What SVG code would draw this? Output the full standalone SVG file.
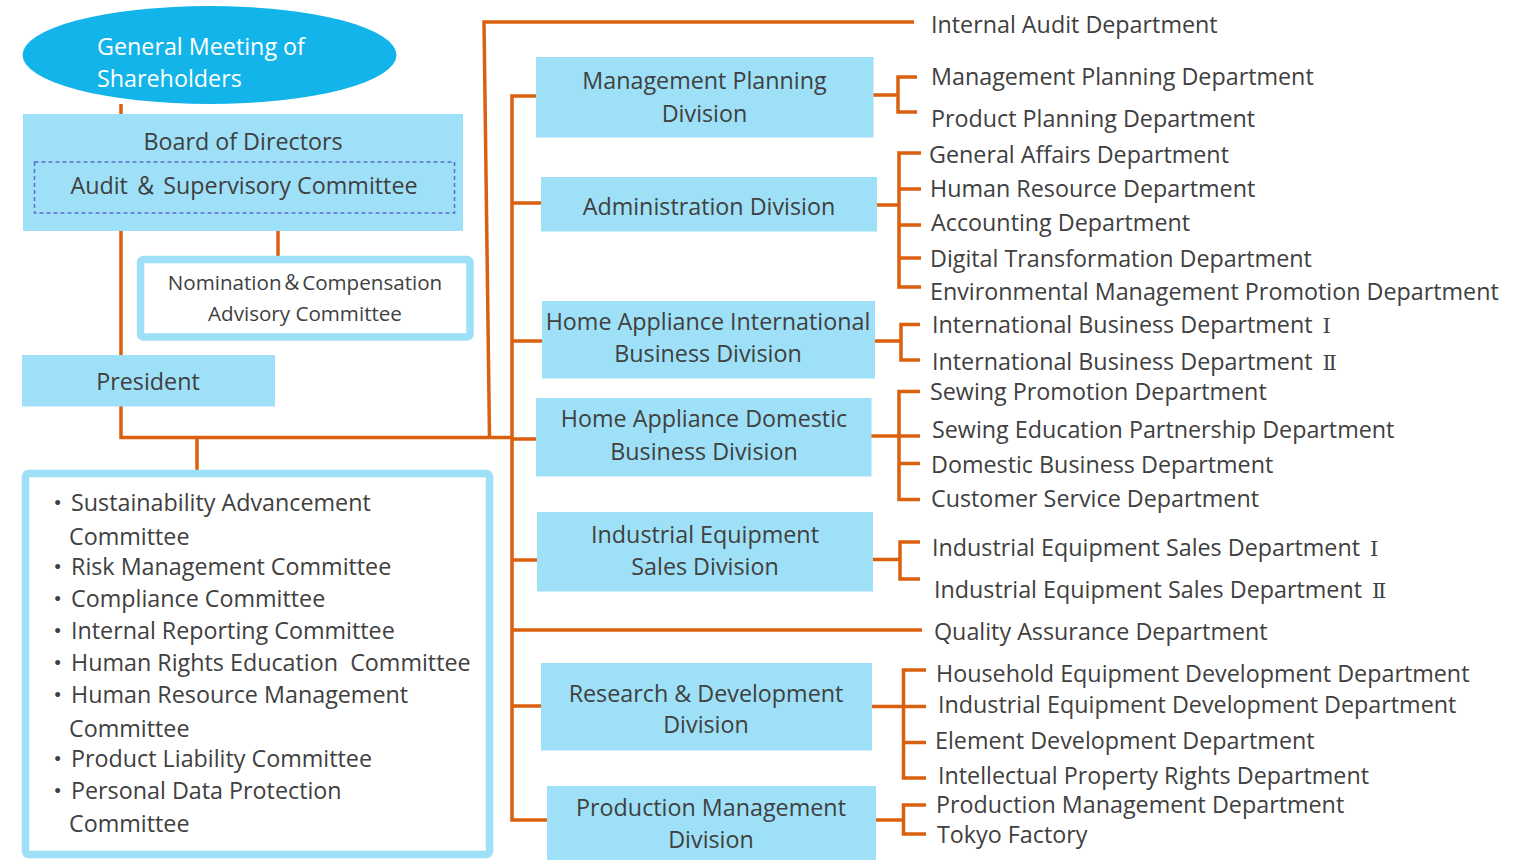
<svg xmlns="http://www.w3.org/2000/svg" width="1516" height="860" viewBox="0 0 1516 860">
<style>
text{font-family:"Open Sans","Noto Sans CJK JP",sans-serif;fill:#404040;font-size:23.3px}
.c{text-anchor:middle}
.w{fill:#ffffff}
.s{font-size:20.6px}
.r{font-family:"DejaVu Serif","Noto Sans CJK JP",serif;font-size:21px}
.box{fill:#9EE0F7}
.frame{fill:#ffffff;stroke:#9EE0F7;stroke-width:7.5}
.ln{fill:none;stroke:#DA600E;stroke-width:3.5;stroke-linecap:butt;stroke-linejoin:miter}
</style>
<rect width="1516" height="860" fill="#ffffff"/>
<g id="connectors">
<path class="ln" d="M121,104 V437.5 H512"/>
<path class="ln" d="M278,231 V256"/>
<path class="ln" d="M197,437.5 V470"/>
<path class="ln" d="M489.5,437.5 L484,22 H914"/>
<path class="ln" d="M536,96 H512 V820 H547"/>
<path class="ln" d="M512,203 H541"/>
<path class="ln" d="M512,341 H542"/>
<path class="ln" d="M512,439 H536"/>
<path class="ln" d="M512,560 H537"/>
<path class="ln" d="M512,630 H922"/>
<path class="ln" d="M512,706 H541"/>
<path class="ln" d="M873,95 H898 M917,77 H898 V112 H917"/>
<path class="ln" d="M877,205 H899 M921,153 H899 V287 H921 M899,189 H921 M899,225 H921 M899,258 H921"/>
<path class="ln" d="M875,341 H901 M920,324.5 H901 V360 H920"/>
<path class="ln" d="M871,436 H899 M920,391.5 H899 V499.5 H920 M899,436 H920 M899,463.5 H920"/>
<path class="ln" d="M873,559.5 H900 M920,542 H900 V579 H920"/>
<path class="ln" d="M871,706.5 H903.5 M926,670 H903.5 V778 H926 M903.5,706.5 H926 M903.5,742.5 H926"/>
<path class="ln" d="M876,820 H903.5 M926,805 H903.5 V834 H926"/>
</g>
<g id="shareholders">
<ellipse cx="209.5" cy="55" rx="187" ry="49" fill="#13B4E9"/>
<text class="w" x="97" y="55">General Meeting of</text>
<text class="w" x="97" y="87">Shareholders</text>
</g>
<g id="board">
<rect class="box" x="23" y="114" width="440" height="117"/>
<text class="c" x="243" y="150">Board of Directors</text>
<rect x="34.5" y="162" width="420" height="51" fill="none" stroke="#5B6BD0" stroke-width="1.5" stroke-dasharray="4 3"/>
<text class="c" x="244" y="194">Audit ＆ Supervisory Committee</text>
</g>
<g id="nomination">
<rect class="frame" x="140.5" y="259.5" width="329.5" height="77.5" rx="3"/>
<text class="c s" x="305" y="290">Nomination＆Compensation</text>
<text class="c s" x="305" y="321">Advisory Committee</text>
</g>
<g id="president">
<rect class="box" x="22" y="355" width="253" height="51.5"/>
<text class="c" x="148" y="390">President</text>
</g>
<g id="committees">
<rect class="frame" x="25.5" y="473.5" width="464" height="381" rx="3"/>
<text x="46" y="511"><tspan>・</tspan><tspan x="71">Sustainability Advancement</tspan></text>
<text x="69" y="545">Committee</text>
<text x="46" y="575"><tspan>・</tspan><tspan x="71">Risk Management Committee</tspan></text>
<text x="46" y="607"><tspan>・</tspan><tspan x="71">Compliance Committee</tspan></text>
<text x="46" y="639"><tspan>・</tspan><tspan x="71">Internal Reporting Committee</tspan></text>
<text x="46" y="671" xml:space="preserve"><tspan>・</tspan><tspan x="71">Human Rights Education  Committee</tspan></text>
<text x="46" y="703"><tspan>・</tspan><tspan x="71">Human Resource Management</tspan></text>
<text x="69" y="737">Committee</text>
<text x="46" y="767"><tspan>・</tspan><tspan x="71">Product Liability Committee</tspan></text>
<text x="46" y="799"><tspan>・</tspan><tspan x="71">Personal Data Protection</tspan></text>
<text x="69" y="832">Committee</text>
</g>
<g id="mgmt-planning">
<rect class="box" x="536" y="57" width="337.5" height="80.5"/>
<text class="c" x="704.5" y="89">Management Planning</text>
<text class="c" x="704.5" y="122">Division</text>
</g>
<g id="administration">
<rect class="box" x="541" y="177" width="336" height="54.5"/>
<text class="c" x="709" y="215">Administration Division</text>
</g>
<g id="ha-international">
<rect class="box" x="542" y="301" width="333" height="77.5"/>
<text class="c" x="708" y="330">Home Appliance International</text>
<text class="c" x="708" y="362">Business Division</text>
</g>
<g id="ha-domestic">
<rect class="box" x="536" y="398" width="335.5" height="78.5"/>
<text class="c" x="704" y="427">Home Appliance Domestic</text>
<text class="c" x="704" y="460">Business Division</text>
</g>
<g id="ie-sales">
<rect class="box" x="537" y="512" width="336" height="79.5"/>
<text class="c" x="705" y="543">Industrial Equipment</text>
<text class="c" x="705" y="575">Sales Division</text>
</g>
<g id="rnd">
<rect class="box" x="541" y="663" width="331" height="87.5"/>
<text class="c" x="706" y="702">Research &amp; Development</text>
<text class="c" x="706" y="733">Division</text>
</g>
<g id="production">
<rect class="box" x="547" y="786" width="329" height="74"/>
<text class="c" x="711" y="816">Production Management</text>
<text class="c" x="711" y="848">Division</text>
</g>
<g id="departments">
<text x="931" y="33">Internal Audit Department</text>
<text x="931" y="85">Management Planning Department</text>
<text x="931" y="127">Product Planning Department</text>
<text x="929" y="163">General Affairs Department</text>
<text x="930" y="197">Human Resource Department</text>
<text x="931" y="231">Accounting Department</text>
<text x="930" y="267">Digital Transformation Department</text>
<text x="930" y="300">Environmental Management Promotion Department</text>
<text x="932" y="333">International Business Department <tspan class="r" dx="4">Ⅰ</tspan></text>
<text x="932" y="370">International Business Department <tspan class="r" dx="4">Ⅱ</tspan></text>
<text x="930" y="400">Sewing Promotion Department</text>
<text x="932" y="438">Sewing Education Partnership Department</text>
<text x="931" y="473">Domestic Business Department</text>
<text x="931" y="507">Customer Service Department</text>
<text x="932" y="556">Industrial Equipment Sales Department <tspan class="r" dx="4">Ⅰ</tspan></text>
<text x="934" y="598">Industrial Equipment Sales Department <tspan class="r" dx="4">Ⅱ</tspan></text>
<text x="934" y="640">Quality Assurance Department</text>
<text x="936" y="682">Household Equipment Development Department</text>
<text x="938" y="713">Industrial Equipment Development Department</text>
<text x="935" y="749">Element Development Department</text>
<text x="938" y="784">Intellectual Property Rights Department</text>
<text x="936" y="813">Production Management Department</text>
<text x="937" y="843">Tokyo Factory</text>
</g>
</svg>
